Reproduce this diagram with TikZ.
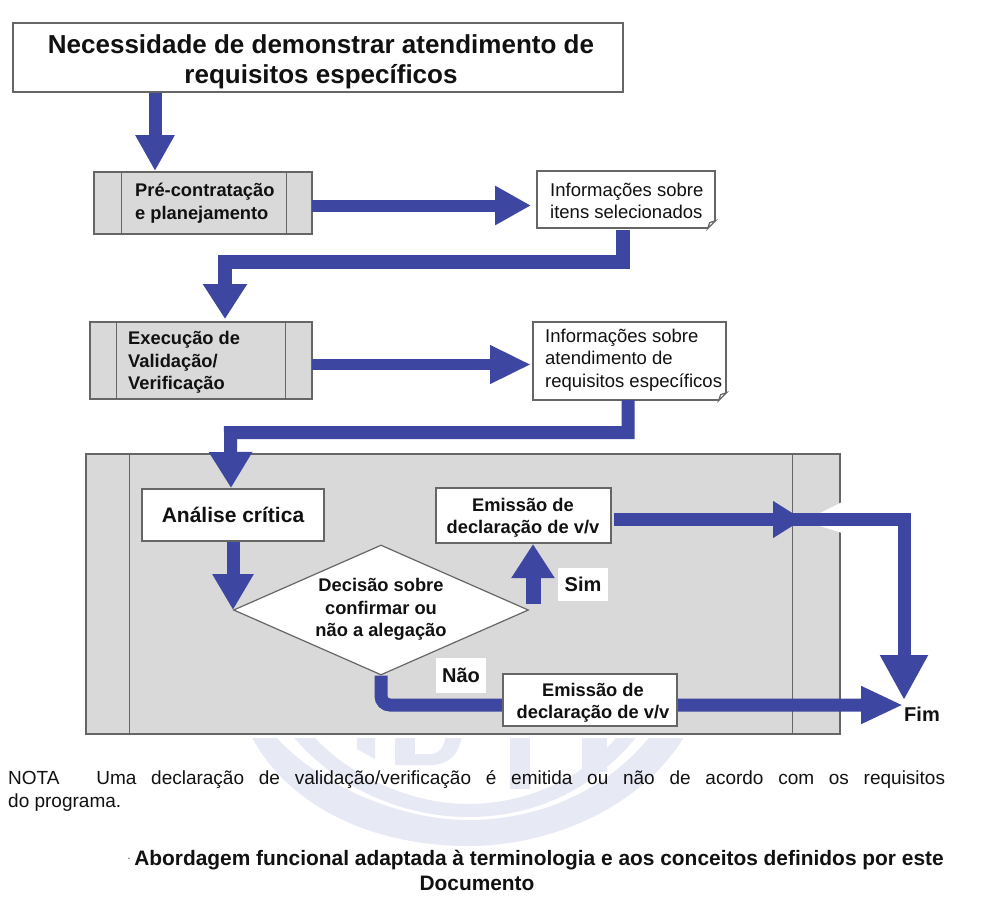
\documentclass[tikz,border=0pt]{standalone}
\usepackage{fontspec}
\setmainfont{Liberation Sans}
\usetikzlibrary{arrows.meta,shapes.geometric}
\definecolor{flowblue}{HTML}{3D47A1}
\definecolor{boxgray}{HTML}{D9D9D9}
\definecolor{edgegray}{HTML}{666666}
\definecolor{markblue}{HTML}{E7E9F5}
\definecolor{inkblack}{HTML}{111111}
\tikzset{
    flow/.style={draw=flowblue, line width=13pt, -{Triangle[length=36pt,width=37pt]}},
    procbox/.style={rectangle, draw=edgegray, line width=1.3pt, fill=boxgray},
    whitebox/.style={rectangle, draw=edgegray, line width=1.3pt, fill=white, inner sep=0pt, text=inkblack, align=center},
    notebox/.style={rectangle, draw=edgegray, line width=1.2pt, fill=white, inner sep=0pt},
    boldtext/.style={font=\fontsize{18.3}{22.5}\selectfont\bfseries, text=inkblack, inner sep=0pt, align=left},
    notetext/.style={font=\fontsize{18.5}{22.5}\selectfont, text=inkblack, inner sep=0pt, align=left},
    tag/.style={font=\fontsize{20}{24}\selectfont\bfseries, text=inkblack, fill=white, inner sep=0pt, align=center},
}
\begin{document}
\begin{tikzpicture}[x=1pt, y=-1pt]
    \useasboundingbox (0,0) rectangle (983,906);

    % watermark
    \begin{scope}
        \clip (0,738) rectangle (983,906);
        \fill[markblue] (248,730) .. controls (290,815) and (385,846) .. (468,846)
            .. controls (560,846) and (650,800) .. (688,730)
            -- (655,730) .. controls (610,790) and (540,820) .. (468,820)
            .. controls (400,820) and (315,785) .. (270,730) -- cycle;
        \fill[markblue] (288,730) .. controls (330,785) and (400,817) .. (468,817)
            .. controls (540,817) and (600,785) .. (642,730)
            -- (622,730) .. controls (590,775) and (530,804) .. (468,804)
            .. controls (410,804) and (345,775) .. (308,730) -- cycle;
        \fill[markblue] (357,730) -- (375,730) -- (375,759) -- (357,749) -- cycle;
        \fill[markblue] (395,730) -- (395,765) -- (430,765) .. controls (452,765) and (462,750) .. (462,730) -- cycle;
        \fill[white] (415,730) -- (415,754) -- (430,754) .. controls (440,754) and (446,745) .. (446,730) -- cycle;
        \fill[markblue] (510,730) -- (530,730) -- (530,789) -- (510,789) -- cycle;
        \fill[markblue] (582,730) -- (607,730) -- (607,772) -- (582,772) -- cycle;
    \end{scope}

    \node[whitebox, minimum width=610pt, minimum height=69pt] (topbox) at (318,57.5) {};
    \node[font=\fontsize{26}{30}\selectfont\bfseries, text=inkblack, align=center, inner sep=0pt] (toptext) at (321,62) {Necessidade de demonstrar atendimento de\\requisitos específicos};

    \node[procbox, minimum width=218pt, minimum height=62pt] (precontract) at (203,203) {};
    \draw[edgegray, line width=1.1pt] ([xshift=28pt]precontract.north west) -- ([xshift=28pt]precontract.south west);
    \draw[edgegray, line width=1.1pt] ([xshift=-26pt]precontract.north east) -- ([xshift=-26pt]precontract.south east);
    \node[boldtext, anchor=west] (pretext) at (135,203) {Pré-contratação\\e planejamento};

    \node[notebox, minimum width=178pt, minimum height=57pt] (info1) at (626,199.5) {};
    \node[notetext, anchor=west] (info1text) at (550,201) {Informações sobre\\itens selecionados};

    \node[procbox, minimum width=222pt, minimum height=77pt] (exec) at (201,360.5) {};
    \draw[edgegray, line width=1.1pt] ([xshift=27pt]exec.north west) -- ([xshift=27pt]exec.south west);
    \draw[edgegray, line width=1.1pt] ([xshift=-27pt]exec.north east) -- ([xshift=-27pt]exec.south east);
    \node[boldtext, anchor=west] (exectext) at (128,362.5) {Execução de\\Validação/\\Verificação};

    \node[notebox, minimum width=193pt, minimum height=78pt] (info2) at (629.5,361) {};
    \node[notetext, anchor=west] (info2text) at (545,360) {Informações sobre\\atendimento de\\requisitos específicos};

    \foreach \n in {info1,info2} {
        \fill[white] ([xshift=-8pt]\n.south east) -- ([yshift=8pt]\n.south east) -- ([xshift=2pt,yshift=-2pt]\n.south east) -- cycle;
        \draw[edgegray, line width=1.2pt] ([xshift=-8pt]\n.south east) -- ([xshift=-6pt,yshift=6pt]\n.south east) -- ([yshift=8pt]\n.south east) -- cycle;
    }

    \node[procbox, minimum width=754pt, minimum height=280pt] (review) at (463,594) {};
    \draw[edgegray, line width=1.1pt] ([xshift=44pt]review.north west) -- ([xshift=44pt]review.south west);
    \draw[edgegray, line width=1.1pt] ([xshift=-48pt]review.north east) -- ([xshift=-48pt]review.south east);
    \fill[white] (842,502) -- (820,513) -- (820,526) -- (842,533) -- cycle;

    \node[whitebox, minimum width=182pt, minimum height=52pt, font=\fontsize{21}{23}\selectfont\bfseries] (analysis) at (233,515) {Análise crítica};
    \node[diamond, draw=edgegray, line width=1.2pt, fill=white, aspect=2.26, minimum width=295pt, minimum height=130pt, inner sep=0pt] (decision) at (381,610) {};
    \node[boldtext, align=center] (decisiontext) at (381,609.5) {Decisão sobre\\confirmar ou\\não a alegação};
    \node[whitebox, minimum width=175pt, minimum height=55pt] (emit1) at (523.5,515.5) {};
    \node[boldtext, align=center] (emit1text) at (523,518) {Emissão de\\declaração de v/v};

    \coordinate (t1) at (155,171);
    \coordinate (t2) at (225,319);
    \coordinate (t3) at (231,488);
    \coordinate (t4) at (233,610);
    \coordinate (t5) at (533,544);
    \coordinate (mid) at (803,519.5);
    \coordinate (fim) at (904,700);
    \coordinate (fimb) at (903,705);

    \draw[flow] (topbox.south -| t1) -- (t1);
    \draw[flow, line width=12pt] (312,205.5) -- (531,205.5);
    \draw[flow, line width=14pt, -{Triangle[length=35pt,width=42pt]}] (623,230) -- (623,262) -- (225,262) -- (t2);
    \draw[flow, line width=11pt, -{Triangle[length=41pt,width=36pt]}] (312,364.5) -- (531,364.5);
    \draw[flow, -{Triangle[length=36pt,width=41pt]}] (628,400) -- (628,432.5) -- (230.5,432.5) -- (t3);
    \draw[flow, -{Triangle[length=36pt,width=39pt]}] (analysis.south -| t4) -- (t4);
    \draw[flow, line width=15pt, -{Triangle[length=34pt,width=41pt]}] (533,604) -- (t5);
    \draw[flow, -{Triangle[length=30pt,width=35pt]}] (614,519.5) -- (mid);
    \draw[flow, -{Triangle[length=45pt,width=45pt]}] (614,519.5) -- (904,519.5) -- (fim);
    \draw[flow, rounded corners=9pt, -{Triangle[length=42pt,width=35pt]}] (decision.south) -- (381,705) -- (fimb);

    \node[whitebox, minimum width=174pt, minimum height=52pt] (emit2) at (590,700) {};
    \node[boldtext, align=center] (emit2text) at (593,703) {Emissão de\\declaração de v/v};
    \node[tag, minimum width=50pt, minimum height=33pt] (sim) at (583,584.5) {Sim};
    \node[tag, minimum width=50pt, minimum height=35pt] (nao) at (461,675) {Não};
    \node[tag, fill=none] (fimtext) at (922,714) {Fim};

    \node[font=\fontsize{19}{23}\selectfont, text=inkblack, anchor=north west, text width=937pt, align=justify, inner sep=0pt] (nota) at (8,770) {NOTA\hspace{22pt} Uma declaração de validação/verificação é emitida ou não de acordo com os requisitos\linebreak do programa.};
    \node[font=\fontsize{20.9}{25}\selectfont\bfseries, text=inkblack, align=center, inner sep=0pt] (caption) at (539,870.5) {Abordagem funcional adaptada à terminologia e aos conceitos definidos por este\\\hspace*{-124pt}Documento};
    \node[font=\fontsize{10}{10}\selectfont, text=inkblack, inner sep=0pt] (dot) at (129,860) {·};
\end{tikzpicture}
\end{document}
